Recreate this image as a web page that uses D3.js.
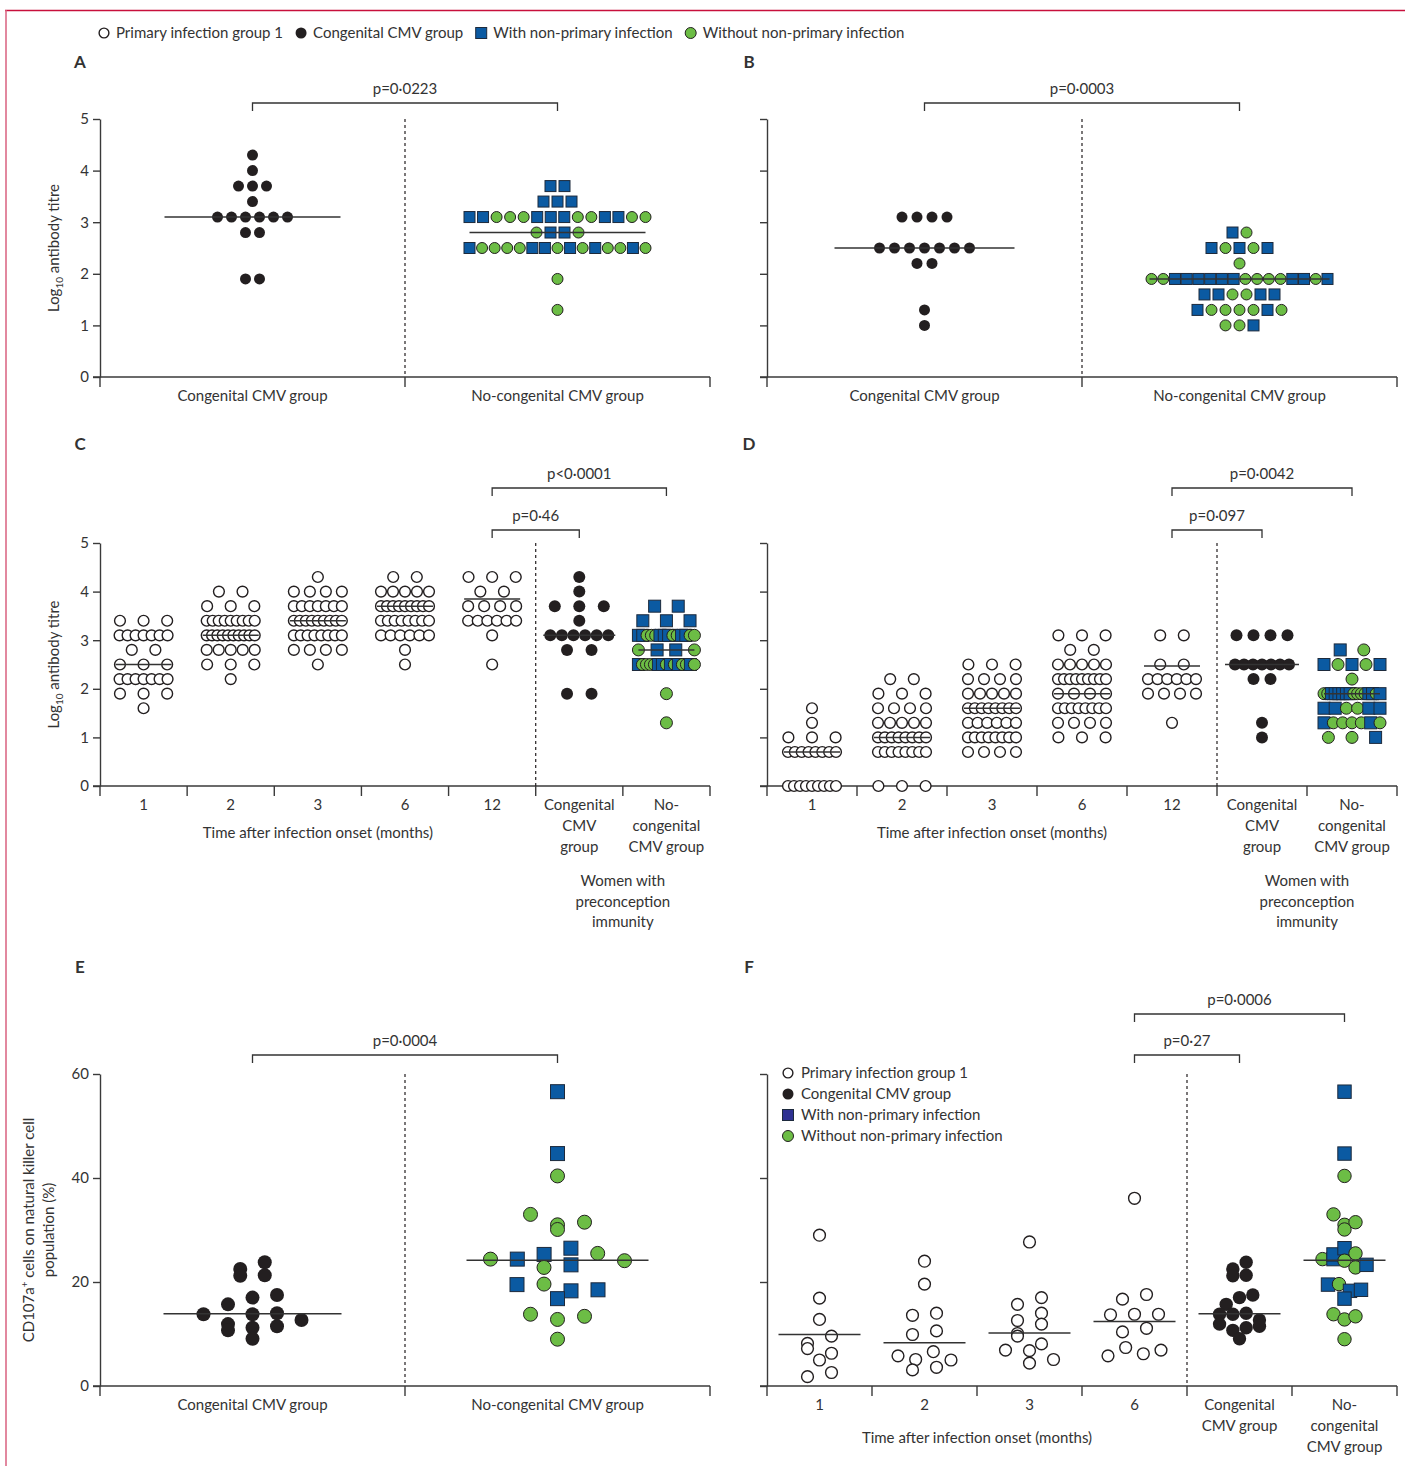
<!DOCTYPE html>
<html>
<head>
<meta charset="utf-8">
<script src="https://cdn.jsdelivr.net/npm/d3@7"></script>
<style>
  body { margin: 0; background: #fff; }
  text { font-family: Lato, 'Liberation Sans', sans-serif; fill: #333; }
</style>
</head>
<body>
<svg id="chart"></svg>
<script>
// ---- data ----------------------------------------------------------------
// legend
const legendLabels = ['Primary infection group 1', 'Congenital CMV group', 'With non-primary infection', 'Without non-primary infection']
const legendKinds = ['primary', 'cong', 'S', 'G']

// panels A and C: women with preconception immunity (log10 titre)
const congTitre = [4.3, 4.0, 3.7, 3.7, 3.7, 3.4, 3.1, 3.1, 3.1, 3.1, 3.1, 3.1, 2.8, 2.8, 1.9, 1.9]
const noCongTitre = [3.7, 3.7,
  3.4, 3.4, 3.4,
  3.1, 3.1, 3.1, 3.1, 3.1, 3.1, 3.1, 3.1, 3.1, 3.1, 3.1, 3.1, 3.1, 3.1,
  2.8, 2.8, 2.8, 2.8,
  2.5, 2.5, 2.5, 2.5, 2.5, 2.5, 2.5, 2.5, 2.5, 2.5, 2.5, 2.5, 2.5, 2.5, 2.5,
  1.9, 1.3]
// S = with non-primary infection, G = without non-primary infection
const noCongTitreType = 'SS SSS SSGGGSSSGGSSGG GSSG SGGGGSSGSGSGGSG G G'.replace(/ /g, '').split('')
const mediansA = [3.1, 2.8]

// panels B and D
const congAvid = [3.1, 3.1, 3.1, 3.1, 2.5, 2.5, 2.5, 2.5, 2.5, 2.5, 2.5, 2.2, 2.2, 1.3, 1.0]
const noCongAvid = [2.8, 2.8,
  2.5, 2.5, 2.5, 2.5, 2.5,
  2.2,
  1.9, 1.9, 1.9, 1.9, 1.9, 1.9, 1.9, 1.9, 1.9, 1.9, 1.9, 1.9, 1.9, 1.9, 1.9, 1.9,
  1.6, 1.6, 1.6, 1.6, 1.6, 1.6,
  1.3, 1.3, 1.3, 1.3, 1.3, 1.3, 1.3,
  1.0, 1.0, 1.0]
const noCongAvidType = 'SG SGSGS G GGSSSSSSGGGGSSGS SSGGSS SGGGGSG GGS'.replace(/ /g, '').split('')
const mediansB = [2.5, 1.9]

// panel C: primary infection group 1 by month
const months = ['1', '2', '3', '6', '12']
const titreC1 = [3.4, 3.4, 3.4, 3.1, 3.1, 3.1, 3.1, 3.1, 3.1, 3.1, 2.8, 2.8, 2.5, 2.5, 2.5,
  2.2, 2.2, 2.2, 2.2, 2.2, 2.2, 2.2, 1.9, 1.9, 1.9, 1.6]
const titreC2 = [4.0, 4.0, 3.7, 3.7, 3.7, 3.4, 3.4, 3.4, 3.4, 3.4, 3.4, 3.4, 3.4, 3.4,
  3.1, 3.1, 3.1, 3.1, 3.1, 3.1, 3.1, 3.1, 3.1, 3.1, 2.8, 2.8, 2.8, 2.8, 2.8, 2.5, 2.5, 2.5, 2.2]
const titreC3 = [4.3, 4.0, 4.0, 4.0, 4.0, 3.7, 3.7, 3.7, 3.7, 3.7, 3.7, 3.7,
  3.4, 3.4, 3.4, 3.4, 3.4, 3.4, 3.4, 3.4, 3.4, 3.1, 3.1, 3.1, 3.1, 3.1, 3.1, 3.1, 3.1,
  2.8, 2.8, 2.8, 2.8, 2.5]
const titreC6 = [4.3, 4.3, 4.0, 4.0, 4.0, 4.0, 4.0, 3.7, 3.7, 3.7, 3.7, 3.7, 3.7, 3.7, 3.7, 3.7,
  3.4, 3.4, 3.4, 3.4, 3.4, 3.4, 3.4, 3.4, 3.1, 3.1, 3.1, 3.1, 3.1, 3.1, 2.8, 2.5]
const titreC12 = [4.3, 4.3, 4.3, 4.0, 4.0, 3.7, 3.7, 3.7, 3.7, 3.4, 3.4, 3.4, 3.4, 3.4, 3.4, 3.1, 2.5]
const mediansC = [2.5, 3.1, 3.4, 3.7, 3.85]

// panel D: primary infection group 1 by month
const titreD1 = [1.6, 1.3, 1.0, 1.0, 1.0, 0.7, 0.7, 0.7, 0.7, 0.7, 0.7, 0.7, 0.7,
  0, 0, 0, 0, 0, 0, 0, 0, 0]
const titreD2 = [2.2, 2.2, 1.9, 1.9, 1.9, 1.6, 1.6, 1.6, 1.6, 1.3, 1.3, 1.3, 1.3, 1.3,
  1.0, 1.0, 1.0, 1.0, 1.0, 1.0, 1.0, 1.0, 0.7, 0.7, 0.7, 0.7, 0.7, 0.7, 0.7, 0.7, 0, 0, 0]
const titreD3 = [2.5, 2.5, 2.5, 2.2, 2.2, 2.2, 2.2, 1.9, 1.9, 1.9, 1.9, 1.9,
  1.6, 1.6, 1.6, 1.6, 1.6, 1.6, 1.6, 1.6, 1.3, 1.3, 1.3, 1.3, 1.3, 1.3,
  1.0, 1.0, 1.0, 1.0, 1.0, 1.0, 1.0, 1.0, 0.7, 0.7, 0.7, 0.7]
const titreD6 = [3.1, 3.1, 3.1, 2.8, 2.8, 2.5, 2.5, 2.5, 2.5, 2.5,
  2.2, 2.2, 2.2, 2.2, 2.2, 2.2, 2.2, 2.2, 2.2, 1.9, 1.9, 1.9, 1.9,
  1.6, 1.6, 1.6, 1.6, 1.6, 1.6, 1.6, 1.6, 1.3, 1.3, 1.3, 1.3, 1.0, 1.0, 1.0]
const titreD12 = [3.1, 3.1, 2.5, 2.5, 2.2, 2.2, 2.2, 2.2, 2.2, 2.2, 1.9, 1.9, 1.9, 1.9, 1.3]
const mediansD = [0.7, 1.0, 1.6, 1.9, 2.47]

// panels E and F: CD107a+ cells on NK cell population (%)
const nkCong = [22.5, 23.8, 21.2, 21.3, 15.7, 17.0, 17.5, 13.8, 11.9, 13.8, 14.0, 12.7, 10.7, 11.2, 11.5, 9.1]
const nkNoCong = [56.6, 44.7, 40.4, 33.0, 31.0, 31.5, 30.1, 24.4, 24.4, 25.3, 26.5, 25.5, 24.1,
  22.8, 23.3, 19.5, 19.6, 18.3, 18.5, 16.8, 13.8, 12.8, 13.4, 9.0]
const nkNoCongType = 'SSGGGGGGSSSGGGSSGSSSGGGG'.split('')
const mediansE = [13.9, 24.2]

const monthsNK = ['1', '2', '3', '6']
const nkM1 = [29.0, 16.9, 12.8, 8.2, 9.6, 7.2, 6.3, 5.0, 1.8, 2.6]
const nkM2 = [24.0, 19.6, 13.6, 14.0, 9.9, 10.6, 5.8, 5.1, 6.6, 5.0, 3.1, 3.6]
const nkM3 = [27.7, 15.7, 17.0, 12.6, 14.0, 10.1, 11.9, 9.6, 8.1, 6.9, 6.8, 5.1, 4.4]
const nkM6 = [36.1, 16.7, 17.6, 13.7, 13.8, 13.8, 10.4, 11.1, 5.8, 7.4, 6.2, 6.9]
const mediansF = [9.9, 8.3, 10.2, 12.4]

const pValues = ['p=0·0223', 'p=0·0003', 'p=0·46', 'p<0·0001', 'p=0·097', 'p=0·0042', 'p=0·0004', 'p=0·27', 'p=0·0006']

// ---- setup ---------------------------------------------------------------
const width = 1405
const height = 1466
const ink = '#231f20'
const axisColor = '#3a3a3a'
const fills = { primary: '#fff', cong: ink, S: '#0b5aa2', G: '#6cbd45' }

const svg = d3.select('#chart').attr('width', width).attr('height', height)

// page frame
svg.append('line').attr('x1', 5).attr('x2', width).attr('y1', 10.5).attr('y2', 10.5)
  .attr('stroke', '#c8103c').attr('stroke-width', 1.5)
svg.append('line').attr('x1', 6).attr('x2', 6).attr('y1', 10).attr('y2', height)
  .attr('stroke', '#d9607f').attr('stroke-width', 1.5)

// dot-plot layout: points with (nearly) equal values share a row, spread symmetrically
function rowOffsets(values, bin, step, maxW) {
  let order = d3.range(values.length).sort((a, b) => values[b] - values[a] || a - b)
  let rows = []
  order.forEach(i => {
    let row = rows[rows.length - 1]
    if (row && values[row.top] - values[i] <= bin + 1e-9) row.ids.push(i)
    else rows.push({ top: i, ids: [i] })
  })
  let dx = []
  rows.forEach(row => {
    let ids = row.ids.sort((a, b) => a - b)
    let n = ids.length
    let s = n > 1 ? Math.min(step, maxW / (n - 1)) : 0
    ids.forEach((id, k) => { dx[id] = (k - (n - 1) / 2) * s })
  })
  return dx
}

function marker(sel, kind, x, y, r, squareFill) {
  if (kind === 'S') {
    sel.append('rect')
      .attr('x', x - r).attr('y', y - r)
      .attr('width', r * 2).attr('height', r * 2)
      .attr('fill', squareFill || fills.S)
      .attr('stroke', '#1d2a3c').attr('stroke-width', 1)
  } else {
    sel.append('circle')
      .attr('cx', x).attr('cy', y).attr('r', kind === 'primary' ? r - 0.6 : r)
      .attr('fill', fills[kind])
      .attr('stroke', ink)
      .attr('stroke-width', kind === 'primary' ? 1.4 : (kind === 'G' ? 1 : 0))
  }
}

// ---- top legend -------------------------------------------------------------
let lx = 104
legendLabels.forEach((label, i) => {
  marker(svg, legendKinds[i], lx, 33, 5.5)
  let t = svg.append('text').attr('x', lx + 12).attr('y', 38).attr('font-size', 15).text(label)
  lx += 12 + t.node().getComputedTextLength() + 18
})

// ---- panel drawing -----------------------------------------------------------
function drawPanel(p) {
  let g = svg.append('g')
  let y = d3.scaleLinear().domain(p.domain).range([p.yBot, p.yTop])
  let x = d3.scaleBand().domain(p.categories).range([p.x0, p.x1])
  let cx = c => x(c) + x.bandwidth() / 2

  g.append('text')
    .attr('x', p.lx).attr('y', p.ly)
    .attr('text-anchor', 'middle')
    .attr('font-size', 17).attr('font-weight', 'bold')
    .text(p.letter)

  // y axis
  let axis = d3.axisLeft(y).tickValues(p.ticks).tickSize(7).tickSizeOuter(0).tickPadding(4)
    .tickFormat(p.tickLabels ? d3.format('d') : '')
  let ya = g.append('g').attr('transform', `translate(${p.x0},0)`).call(axis)
  ya.attr('font-family', null).attr('font-size', 15)
  ya.selectAll('path, line').attr('stroke', axisColor).attr('stroke-width', 1.4)
  ya.selectAll('text').attr('fill', '#333')

  // x axis with ticks at the category edges
  g.append('line')
    .attr('x1', p.x0 - 7).attr('x2', p.x1)
    .attr('y1', y(0)).attr('y2', y(0))
    .attr('stroke', axisColor).attr('stroke-width', 1.4)
  g.selectAll('.edge')
    .data(p.categories.map(c => x(c)).concat([p.x1]))
    .enter()
    .append('line')
    .attr('x1', d => d).attr('x2', d => d)
    .attr('y1', y(0)).attr('y2', y(0) + 10)
    .attr('stroke', axisColor).attr('stroke-width', 1.4)

  // dashed separator
  let sx = x(p.split)
  g.append('line')
    .attr('x1', sx).attr('x2', sx)
    .attr('y1', y(p.domain[1])).attr('y2', y(0))
    .attr('stroke', ink).attr('stroke-width', 1.2)
    .attr('stroke-dasharray', '3,3')

  // category labels
  p.categories.forEach((c, i) => {
    let t = g.append('text').attr('text-anchor', 'middle').attr('font-size', 15)
    p.labels[i].forEach((line, k) => {
      t.append('tspan').attr('x', cx(c)).attr('y', y(0) + 24 + k * 21).text(line)
    })
  })

  if (p.timeLabel) {
    g.append('text')
      .attr('x', (p.x0 + sx) / 2).attr('y', y(0) + p.timeDy)
      .attr('text-anchor', 'middle').attr('font-size', 15)
      .text('Time after infection onset (months)')
  }
  if (p.womenLabel) {
    let t = g.append('text').attr('text-anchor', 'middle').attr('font-size', 15)
    ;['Women with', 'preconception', 'immunity'].forEach((line, k) => {
      t.append('tspan').attr('x', (sx + p.x1) / 2).attr('y', y(0) + 100 + k * 20.5).text(line)
    })
  }

  // points and medians
  p.groups.forEach(grp => {
    let dx = rowOffsets(grp.values, grp.bin, grp.step, grp.maxW)
    let holder = g.append('g')
    grp.values.forEach((v, i) => {
      let kind = grp.types ? grp.types[i] : grp.kind
      marker(holder, kind, cx(grp.cat) + dx[i], y(v), grp.r)
    })
    g.append('line')
      .attr('x1', cx(grp.cat) - grp.half).attr('x2', cx(grp.cat) + grp.half)
      .attr('y1', y(grp.median)).attr('y2', y(grp.median))
      .attr('stroke', '#333').attr('stroke-width', 1.5)
  })

  // significance brackets
  p.brackets.forEach(b => {
    let xa = cx(b.a)
    let xb = cx(b.b)
    g.append('path')
      .attr('d', `M${xa},${b.y + 8}V${b.y}H${xb}V${b.y + 8}`)
      .attr('fill', 'none').attr('stroke', '#333').attr('stroke-width', 1.3)
    g.append('text')
      .attr('x', (xa + xb) / 2).attr('y', b.y - 9)
      .attr('text-anchor', 'middle').attr('font-size', 15)
      .text(b.label)
  })

  // y label
  if (p.yLabel) p.yLabel(g, (p.yTop + p.yBot) / 2)
  return { x, y, cx }
}

function titreLabel(g, cy) {
  let t = g.append('text')
    .attr('transform', `translate(59,${cy}) rotate(-90)`)
    .attr('text-anchor', 'middle').attr('font-size', 15)
  t.append('tspan').text('Log')
  t.append('tspan').attr('font-size', 10).attr('dy', 4).text('10')
  t.append('tspan').attr('dy', -4).text(' antibody titre')
}

function nkLabel(g, cy) {
  let t = g.append('text')
    .attr('transform', `translate(34,${cy}) rotate(-90)`)
    .attr('text-anchor', 'middle').attr('font-size', 15)
  t.append('tspan').text('CD107a')
  t.append('tspan').attr('font-size', 10).attr('dy', -6).text('+')
  t.append('tspan').attr('dy', 6).text(' cells on natural killer cell')
  g.append('text')
    .attr('transform', `translate(54,${cy}) rotate(-90)`)
    .attr('text-anchor', 'middle').attr('font-size', 15)
    .text('population (%)')
}

const titreTicks = [0, 1, 2, 3, 4, 5]
const pairLabels = [['Congenital CMV group'], ['No-congenital CMV group']]
const wideA = { step: 14, maxW: 176, bin: 0.05, r: 5.5, half: 88 }

// A
drawPanel({
  letter: 'A', lx: 80, ly: 68, x0: 100, x1: 710, yTop: 119, yBot: 377,
  domain: [0, 5], ticks: titreTicks, tickLabels: true,
  categories: ['cong', 'noCong'], labels: pairLabels, split: 'noCong',
  groups: [
    { cat: 'cong', values: congTitre, kind: 'cong', median: mediansA[0], ...wideA },
    { cat: 'noCong', values: noCongTitre, types: noCongTitreType, median: mediansA[1], ...wideA }
  ],
  brackets: [{ a: 'cong', b: 'noCong', y: 103, label: pValues[0] }],
  yLabel: titreLabel
})

// B
drawPanel({
  letter: 'B', lx: 749, ly: 68, x0: 767, x1: 1397, yTop: 119, yBot: 377,
  domain: [0, 5], ticks: titreTicks, tickLabels: false,
  categories: ['cong', 'noCong'], labels: pairLabels, split: 'noCong',
  groups: [
    { cat: 'cong', values: congAvid, kind: 'cong', median: mediansB[0], ...wideA, step: 15, half: 90 },
    { cat: 'noCong', values: noCongAvid, types: noCongAvidType, median: mediansB[1], ...wideA, maxW: 176, half: 90 }
  ],
  brackets: [{ a: 'cong', b: 'noCong', y: 103, label: pValues[1] }]
})

// C and D share the months + immunity layout
const monthCats = months.concat(['cong', 'noCong'])
const monthLabels = months.map(m => [m]).concat([['Congenital', 'CMV', 'group'], ['No-', 'congenital', 'CMV group']])
const narrow = { step: 23.6, maxW: 48, bin: 0.05, r: 6, half: 28 }

function primaryGroups(arrays, medians) {
  return arrays.map((vals, i) => ({ cat: months[i], values: vals, kind: 'primary', median: medians[i], ...narrow }))
}

drawPanel({
  letter: 'C', lx: 80, ly: 450, x0: 100, x1: 710, yTop: 543, yBot: 786,
  domain: [0, 5], ticks: titreTicks, tickLabels: true,
  categories: monthCats, labels: monthLabels, split: 'cong',
  timeLabel: true, timeDy: 52, womenLabel: true,
  groups: primaryGroups([titreC1, titreC2, titreC3, titreC6, titreC12], mediansC).concat([
    { cat: 'cong', values: congTitre, kind: 'cong', median: mediansA[0], ...narrow, step: 24.5, maxW: 58, half: 36 },
    { cat: 'noCong', values: noCongTitre, types: noCongTitreType, median: mediansA[1], ...narrow, maxW: 56 }
  ]),
  brackets: [
    { a: '12', b: 'cong', y: 530, label: pValues[2] },
    { a: '12', b: 'noCong', y: 488, label: pValues[3] }
  ],
  yLabel: titreLabel
})

drawPanel({
  letter: 'D', lx: 749, ly: 450, x0: 767, x1: 1397, yTop: 543, yBot: 786,
  domain: [0, 5], ticks: titreTicks, tickLabels: false,
  categories: monthCats, labels: monthLabels, split: 'cong',
  timeLabel: true, timeDy: 52, womenLabel: true,
  groups: primaryGroups([titreD1, titreD2, titreD3, titreD6, titreD12], mediansD).concat([
    { cat: 'cong', values: congAvid, kind: 'cong', median: mediansB[0], ...narrow, step: 17, maxW: 54, half: 37 },
    { cat: 'noCong', values: noCongAvid, types: noCongAvidType, median: mediansB[1], ...narrow, maxW: 56 }
  ]),
  brackets: [
    { a: '12', b: 'cong', y: 530, label: pValues[4] },
    { a: '12', b: 'noCong', y: 488, label: pValues[5] }
  ]
})

// E
const nkTicks = [0, 20, 40, 60]
drawPanel({
  letter: 'E', lx: 80, ly: 973, x0: 100, x1: 710, yTop: 1074, yBot: 1386,
  domain: [0, 60], ticks: nkTicks, tickLabels: true,
  categories: ['cong', 'noCong'], labels: pairLabels, split: 'noCong',
  groups: [
    { cat: 'cong', values: nkCong, kind: 'cong', median: mediansE[0], step: 24.5, maxW: 98, bin: 2.3, r: 7, half: 89 },
    { cat: 'noCong', values: nkNoCong, types: nkNoCongType, median: mediansE[1], step: 27, maxW: 134, bin: 2.5, r: 7, half: 91 }
  ],
  brackets: [{ a: 'cong', b: 'noCong', y: 1055, label: pValues[6] }],
  yLabel: nkLabel
})

// F
const fCats = monthsNK.concat(['cong', 'noCong'])
const fLabels = monthsNK.map(m => [m]).concat([['Congenital', 'CMV group'], ['No-', 'congenital', 'CMV group']])
const fMonth = { kind: 'primary', step: 24, maxW: 53, bin: 2.0, r: 6.5, half: 41 }
drawPanel({
  letter: 'F', lx: 749, ly: 973, x0: 767, x1: 1397, yTop: 1074, yBot: 1386,
  domain: [0, 60], ticks: nkTicks, tickLabels: false,
  categories: fCats, labels: fLabels, split: 'cong',
  timeLabel: true, timeDy: 57,
  groups: [nkM1, nkM2, nkM3, nkM6].map((vals, i) => ({ cat: monthsNK[i], values: vals, median: mediansF[i], ...fMonth })).concat([
    { cat: 'cong', values: nkCong, kind: 'cong', median: mediansE[0], step: 13.3, maxW: 53, bin: 2.0, r: 6.7, half: 41 },
    { cat: 'noCong', values: nkNoCong, types: nkNoCongType, median: mediansE[1], step: 11, maxW: 66, bin: 2.0, r: 6.7, half: 41 }
  ]),
  brackets: [
    { a: '6', b: 'cong', y: 1055, label: pValues[7] },
    { a: '6', b: 'noCong', y: 1014, label: pValues[8] }
  ]
})

// legend inside F
legendLabels.forEach((label, i) => {
  let ly = 1073 + i * 21
  marker(svg, legendKinds[i], 788, ly, 5.5, '#2e3192')
  svg.append('text').attr('x', 801).attr('y', ly + 5).attr('font-size', 15).text(label)
})
</script>
</body>
</html>
